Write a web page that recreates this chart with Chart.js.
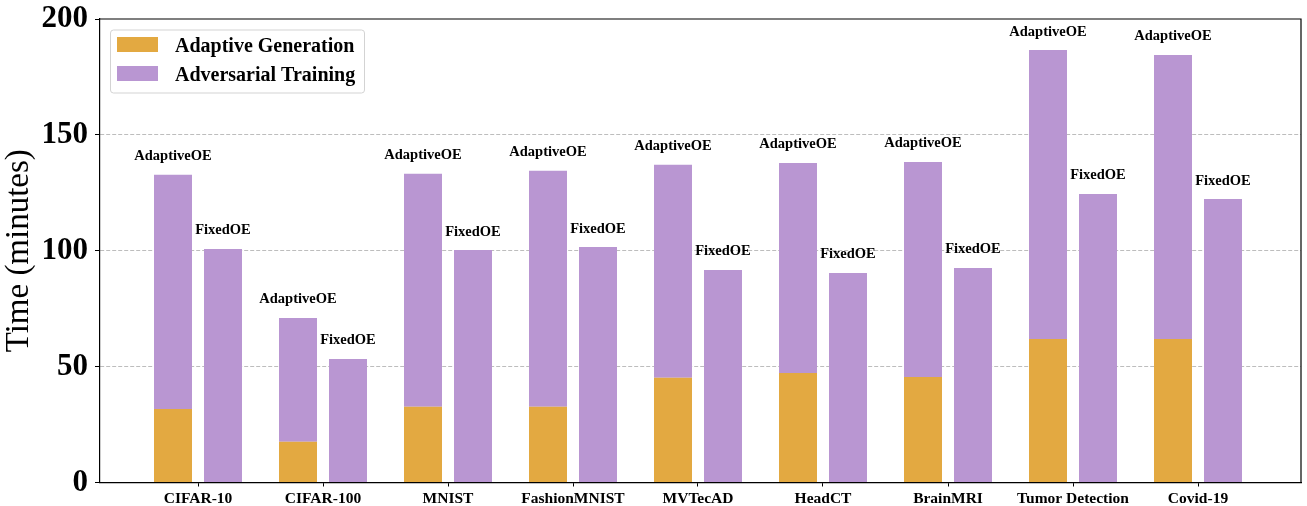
<!DOCTYPE html>
<html>
<head>
<meta charset="utf-8">
<script src="https://cdn.jsdelivr.net/npm/chart.js@4/dist/chart.umd.min.js"></script>
<style>
  html, body { margin: 0; padding: 0; background: #ffffff; }
  #wrap { width: 1307px; height: 506px; position: relative; }
</style>
</head>
<body>
<div id="wrap"><canvas id="chart" width="1307" height="506"></canvas></div>
<script>
// Training time per dataset (minutes)
const categories = ['CIFAR-10', 'CIFAR-100', 'MNIST', 'FashionMNIST', 'MVTecAD', 'HeadCT', 'BrainMRI', 'Tumor Detection', 'Covid-19'];
const adaptiveGeneration = [31.7, 17.6, 32.7, 32.7, 45.2, 47.2, 45.5, 61.9, 61.9];
const adaptiveTraining   = [101.1, 53.4, 100.5, 101.8, 91.9, 90.7, 92.8, 124.7, 122.6];
const fixedTraining      = [100.8, 53.3, 100.3, 101.6, 91.7, 90.4, 92.6, 124.5, 122.3];
const yTicks = [0, 50, 100, 150, 200];
const methodNames = ['AdaptiveOE', 'FixedOE'];
const legendNames = ['Adaptive Generation', 'Adversarial Training'];

const ORANGE = '#E3A941';
const PURPLE = '#B996D2';
const SERIF = '"Liberation Serif", "Times New Roman", serif';

const toPoints = arr => arr.map((v, i) => ({ x: i, y: v }));

// Method names above each bar, plus a frame around the plot and the legend
const annotate = {
  id: 'annotate',
  afterDatasetsDraw(chart) {
    const ctx = chart.ctx;
    const tops = [chart.getDatasetMeta(1), chart.getDatasetMeta(2)];
    ctx.save();
    ctx.fillStyle = '#000';
    ctx.font = 'bold 14.5px ' + SERIF;
    ctx.textAlign = 'center';
    ctx.textBaseline = 'alphabetic';
    tops.forEach((meta, k) => {
      meta.data.forEach(el => {
        ctx.fillText(methodNames[k], el.x, el.y - 14.5);
      });
    });
    ctx.restore();
  },
  afterDraw(chart) {
    const { ctx, chartArea: a } = chart;
    ctx.save();
    ctx.strokeStyle = '#000';
    ctx.lineWidth = 1.2;
    ctx.beginPath();
    ctx.moveTo(a.left, a.top);
    ctx.lineTo(a.right, a.top);
    ctx.lineTo(a.right, a.bottom);
    ctx.stroke();

    // legend box
    const bx = 110, by = 29.5, bw = 254, bh = 63;
    ctx.fillStyle = 'rgba(255,255,255,0.85)';
    ctx.strokeStyle = '#d3d3d3';
    ctx.lineWidth = 1;
    ctx.beginPath();
    ctx.roundRect(bx + 0.5, by + 0.5, bw, bh, 3);
    ctx.fill();
    ctx.stroke();
    const colors = [ORANGE, PURPLE];
    ctx.font = 'bold 20px ' + SERIF;
    ctx.textAlign = 'left';
    ctx.textBaseline = 'alphabetic';
    legendNames.forEach((name, i) => {
      const y = 37 + i * 29;
      ctx.fillStyle = colors[i];
      ctx.fillRect(117, y, 41, 15);
      ctx.fillStyle = '#000';
      ctx.fillText(name, 175, y + 15);
    });
    ctx.restore();
  }
};

new Chart(document.getElementById('chart'), {
  type: 'bar',
  data: {
    datasets: [
      { label: legendNames[0], data: toPoints(adaptiveGeneration), stack: 'adaptive', backgroundColor: ORANGE },
      { label: legendNames[1], data: toPoints(adaptiveTraining), stack: 'adaptive', backgroundColor: PURPLE },
      { label: legendNames[1] + ' (FixedOE)', data: toPoints(fixedTraining), stack: 'fixed', backgroundColor: PURPLE }
    ]
  },
  options: {
    responsive: false,
    animation: false,
    devicePixelRatio: 1,
    categoryPercentage: 0.8,
    barPercentage: 0.76,
    layout: { padding: { top: 19, right: 6, left: 0, bottom: 0 } },
    plugins: {
      legend: { display: false },
      tooltip: { enabled: false }
    },
    scales: {
      x: {
        type: 'linear',
        stacked: true,
        offset: false,
        min: -0.784,
        max: 8.824,
        afterBuildTicks: s => { s.ticks = categories.map((_, i) => ({ value: i })); },
        afterFit: s => { s.height = 23.5; s.paddingLeft = 0; s.paddingRight = 0; },
        ticks: {
          autoSkip: false,
          maxRotation: 0,
          padding: 3,
          color: '#000',
          font: { family: SERIF, size: 15.5, weight: 'bold' },
          callback: v => categories[v]
        },
        grid: { offset: false, drawOnChartArea: false, drawTicks: true, tickLength: 4, tickColor: '#000', tickWidth: 1 },
        border: { display: true, color: '#000', width: 1.2 }
      },
      y: {
        stacked: true,
        min: 0,
        max: 200,
        afterBuildTicks: s => { s.ticks = yTicks.map(v => ({ value: v })); },
        afterFit: s => { s.width = 100; s.paddingTop = 0; s.paddingBottom = 0; },
        ticks: {
          padding: 7,
          color: '#000',
          font: { family: SERIF, size: 31, weight: 'bold' }
        },
        grid: {
          color: c => (c.tick && (c.tick.value === 0 || c.tick.value === 200)) ? 'rgba(0,0,0,0)' : '#bdbdbd',
          lineWidth: 1,
          drawTicks: true,
          tickLength: 5,
          tickColor: '#000',
          tickWidth: 1
        },
        border: { display: true, color: '#000', width: 1.2, dash: [4, 2] },
        title: {
          display: true,
          text: 'Time (minutes)',
          color: '#000',
          padding: 0,
          font: { family: SERIF, size: 33, weight: 'normal' }
        }
      }
    }
  },
  plugins: [annotate]
});
</script>
</body>
</html>
